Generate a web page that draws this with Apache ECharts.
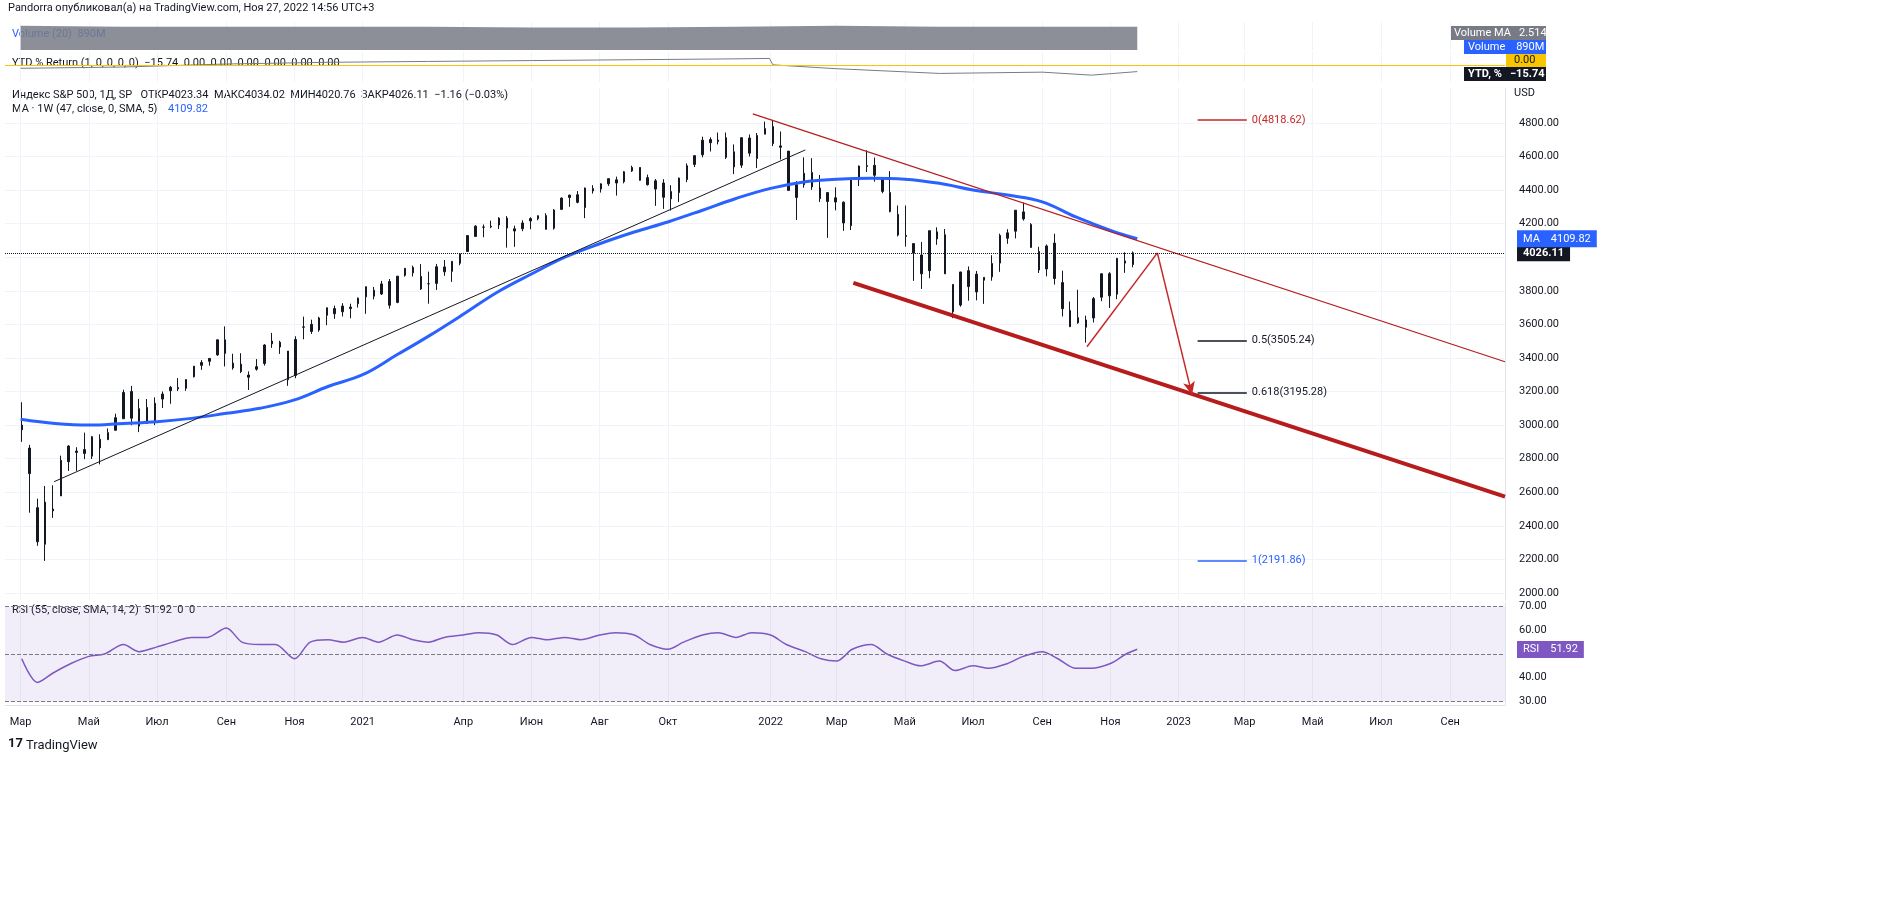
<!DOCTYPE html>
<html>
<head>
<meta charset="utf-8">
<script src="https://cdn.jsdelivr.net/npm/echarts@6/dist/echarts.min.js"></script>
<style>
  html, body { margin: 0; padding: 0; background: #fff; }
  #chart { width: 1890px; height: 917px; }
</style>
</head>
<body>
<div id="chart"></div>
<script>
// weekly bars: [week start, open, close, low, high]
const weekStarts = [
  '2020-03-02','2020-03-09','2020-03-16','2020-03-23','2020-03-30','2020-04-06','2020-04-13','2020-04-20','2020-04-27',
  '2020-05-04','2020-05-11','2020-05-18','2020-05-25','2020-06-01','2020-06-08','2020-06-15','2020-06-22','2020-06-29',
  '2020-07-06','2020-07-13','2020-07-20','2020-07-27','2020-08-03','2020-08-10','2020-08-17','2020-08-24','2020-08-31',
  '2020-09-07','2020-09-14','2020-09-21','2020-09-28','2020-10-05','2020-10-12','2020-10-19','2020-10-26','2020-11-02',
  '2020-11-09','2020-11-16','2020-11-23','2020-11-30','2020-12-07','2020-12-14','2020-12-21','2020-12-28',
  '2021-01-04','2021-01-11','2021-01-18','2021-01-25','2021-02-01','2021-02-08','2021-02-15','2021-02-22','2021-03-01',
  '2021-03-08','2021-03-15','2021-03-22','2021-03-29','2021-04-05','2021-04-12','2021-04-19','2021-04-26','2021-05-03',
  '2021-05-10','2021-05-17','2021-05-24','2021-05-31','2021-06-07','2021-06-14','2021-06-21','2021-06-28','2021-07-05',
  '2021-07-12','2021-07-19','2021-07-26','2021-08-02','2021-08-09','2021-08-16','2021-08-23','2021-08-30','2021-09-06',
  '2021-09-13','2021-09-20','2021-09-27','2021-10-04','2021-10-11','2021-10-18','2021-10-25','2021-11-01','2021-11-08',
  '2021-11-15','2021-11-22','2021-11-29','2021-12-06','2021-12-13','2021-12-20','2021-12-27',
  '2022-01-03','2022-01-10','2022-01-17','2022-01-24','2022-01-31','2022-02-07','2022-02-14','2022-02-21','2022-02-28',
  '2022-03-07','2022-03-14','2022-03-21','2022-03-28','2022-04-04','2022-04-11','2022-04-18','2022-04-25','2022-05-02',
  '2022-05-09','2022-05-16','2022-05-23','2022-05-30','2022-06-06','2022-06-13','2022-06-20','2022-06-27','2022-07-04',
  '2022-07-11','2022-07-18','2022-07-25','2022-08-01','2022-08-08','2022-08-15','2022-08-22','2022-08-29','2022-09-05',
  '2022-09-12','2022-09-19','2022-09-26','2022-10-03','2022-10-10','2022-10-17','2022-10-24','2022-10-31','2022-11-07',
  '2022-11-14','2022-11-21'
];
const opens = [
  3000,2863,2508,2290,2500,2578,2782,2845,2854, 2815,2915,2913,2969,3038,3200,2994,3105,3018,
  3155,3205,3224,3219,3288,3356,3380,3418,3508, 3369,3363,3285,3333,3367,3500,3493,3441,3296,
  3583,3600,3566,3654,3694,3675,3694,3723,
  3764,3803,3781,3855,3731,3892,3939,3885,3842, 3844,3942,3916,3964,4034,4124,4179,4185,4192,
  4233,4169,4170,4216,4229,4248,4173,4285,4356, 4372,4296,4409,4406,4437,4461,4450,4514,4535,
  4474,4406,4442,4348,4385,4463,4553,4610,4701, 4689,4712,4628,4548,4710,4588,4733,
  4778,4655,4632,4356,4432,4505,4412,4332,4354, 4328,4188,4462,4541,4547,4474,4385,4255,4130,
  4081,4013,3920,4151,4134,3838,3715,3920,3793, 3880,3883,3965,4113,4155,4270,4195,4034,3930,
  4084,3849,3682,3609,3626,3638,3762,3902,3780, 3978,3956
];
const closes = [
  2972,2711,2305,2541,2489,2790,2875,2837,2831, 2930,2864,2955,3044,3194,3041,3098,3009,3130,
  3185,3225,3216,3271,3351,3373,3397,3508,3427, 3341,3319,3298,3348,3477,3484,3465,3270,3510,
  3585,3558,3638,3699,3663,3709,3703,3756,
  3824,3768,3841,3714,3887,3934,3907,3811,3842, 3943,3913,3975,4020,4129,4185,4180,4181,4233,
  4174,4156,4204,4230,4247,4166,4281,4352,4370, 4327,4412,4395,4437,4468,4442,4509,4535,4458,
  4432,4455,4357,4391,4471,4545,4605,4697,4682, 4698,4595,4538,4712,4620,4725,4766,
  4677,4663,4398,4432,4500,4419,4349,4385,4329, 4204,4463,4543,4546,4488,4392,4272,4132,4124,
  4024,3901,4158,4109,3901,3675,3912,3825,3899, 3863,3962,4130,4145,4280,4228,4058,3924,4067,
  3873,3693,3586,3640,3583,3753,3901,3770,3993, 3965,4026
];
const lows = [
  2900,2478,2281,2191,2447,2578,2727,2727,2797, 2798,2766,2913,2969,3038,2999,2958,3008,3000,
  3102,3127,3203,3204,3284,3329,3354,3413,3349, 3330,3310,3209,3324,3354,3460,3424,3234,3279,
  3511,3543,3556,3595,3633,3647,3636,3700,
  3663,3749,3775,3694,3726,3884,3885,3805,3723, 3805,3889,3853,3952,4034,4124,4119,4173,4168,
  4057,4062,4155,4167,4220,4165,4164,4283,4300, 4321,4233,4379,4385,4425,4367,4440,4508,4457,
  4427,4306,4288,4278,4329,4447,4537,4595,4630, 4672,4585,4495,4532,4600,4531,4733,
  4662,4582,4395,4222,4414,4401,4329,4115,4279, 4157,4162,4424,4507,4450,4381,4267,4124,4063,
  3859,3811,3875,4074,3900,3637,3705,3741,3743, 3722,3860,3913,4080,4112,4218,4057,3906,3886,
  3837,3647,3584,3604,3491,3611,3738,3698,3750, 3907,3940
];
const highs = [
  3136,2882,2562,2637,2641,2818,2880,2868,2955, 2934,2945,2980,3068,3211,3233,3156,3155,3165,
  3200,3233,3280,3272,3352,3387,3399,3509,3588, 3425,3428,3320,3393,3482,3549,3502,3441,3529,
  3646,3628,3645,3699,3712,3726,3723,3760,
  3826,3823,3859,3870,3888,3935,3950,3959,3914, 3960,3983,3978,4021,4129,4191,4195,4218,4238,
  4245,4188,4220,4238,4249,4262,4286,4356,4372, 4394,4415,4429,4440,4468,4480,4513,4545,4535,
  4492,4466,4465,4429,4475,4559,4608,4718,4714, 4743,4743,4672,4713,4731,4740,4808,
  4818,4749,4632,4453,4595,4590,4490,4386,4416, 4332,4465,4546,4637,4594,4474,4513,4308,4308,
  4081,4091,4158,4178,4168,3838,3913,3945,3918, 3880,4012,4140,4167,4280,4325,4203,4062,4076,
  4140,3920,3736,3806,3652,3763,3905,3911,3996, 4029,4034
];

// 47-week SMA, read at month points
const maDates = ['2020-03-01','2020-04-01','2020-05-01','2020-06-01','2020-07-01','2020-08-01','2020-09-01','2020-10-01',
  '2020-11-01','2020-12-01','2021-01-01','2021-02-01','2021-03-01','2021-04-01','2021-05-01','2021-06-01','2021-07-01',
  '2021-08-01','2021-09-01','2021-10-01','2021-11-01','2021-12-01','2022-01-01','2022-02-01','2022-03-01','2022-04-01',
  '2022-05-01','2022-06-01','2022-07-01','2022-08-01','2022-09-01','2022-10-01','2022-11-01','2022-11-25'];
const maValues = [3035,3010,3000,3010,3020,3040,3070,3100,3150,3230,3300,3420,3530,3660,3790,3900,4000,
  4080,4150,4210,4280,4350,4410,4450,4465,4470,4465,4440,4400,4370,4330,4240,4160,4110];

// RSI(55)
const rsiDates = ['2020-03-02','2020-03-16','2020-03-30','2020-04-15','2020-05-01','2020-05-15','2020-06-01','2020-06-15',
  '2020-07-01','2020-07-15','2020-08-01','2020-08-15','2020-09-01','2020-09-15','2020-10-01','2020-10-15','2020-11-01',
  '2020-11-15','2020-12-01','2020-12-15','2021-01-01','2021-01-15','2021-02-01','2021-02-15','2021-03-01','2021-03-15',
  '2021-04-01','2021-04-15','2021-05-01','2021-05-15','2021-06-01','2021-06-15','2021-07-01','2021-07-15','2021-08-01',
  '2021-08-15','2021-09-01','2021-09-15','2021-10-01','2021-10-15','2021-11-01','2021-11-15','2021-12-01','2021-12-15',
  '2022-01-01','2022-01-15','2022-02-01','2022-02-15','2022-03-01','2022-03-15','2022-04-01','2022-04-15','2022-05-01',
  '2022-05-15','2022-06-01','2022-06-15','2022-07-01','2022-07-15','2022-08-01','2022-08-15','2022-09-01','2022-09-15',
  '2022-10-01','2022-10-15','2022-11-01','2022-11-15','2022-11-25'];
const rsiValues = [48,38,42,46,49,50,54,51,53,55,57,57,61,55,54,54,48,55,56,55,57,55,58,56,55,57,
  58,59,58,54,57,56,57,56,58,59,58,54,52,55,58,59,57,59,
  58,54,51,48,47,52,54,50,47,45,47,43,45,44,46,49,51,48,
  44,44,46,50,52];

// volume (billions) and YTD % return
const volDates = ['2020-03-01','2020-06-01','2020-09-01','2020-12-01','2021-03-01','2021-06-01','2021-09-01',
  '2021-12-01','2022-03-01','2022-06-01','2022-09-01','2022-11-25'];
const volValues = [2.6,2.5,2.5,2.5,2.5,2.4,2.4,2.5,2.6,2.5,2.5,2.5];
const ytdDates = ['2020-03-01','2020-06-01','2020-09-01','2020-12-01','2021-03-01','2021-06-01','2021-09-01',
  '2021-12-01','2021-12-31','2022-01-03','2022-03-01','2022-06-01','2022-09-01','2022-10-15','2022-11-25'];
const ytdValues = [-8,-5,2,6,8,10,12,14,15,0,-9,-20,-17,-24,-15.74];

const monthTicks = ['2020-03-01','2020-05-01','2020-07-01','2020-09-01','2020-11-01','2021-01-01','2021-04-01',
  '2021-06-01','2021-08-01','2021-10-01','2022-01-01','2022-03-01','2022-05-01','2022-07-01','2022-09-01',
  '2022-11-01','2023-01-01','2023-03-01','2023-05-01','2023-07-01','2023-09-01'];
const monthNames = ['Янв','Фев','Мар','Апр','Май','Июн','Июл','Авг','Сен','Окт','Ноя','Дек'];
const priceTicks = [2000,2200,2400,2600,2800,3000,3200,3400,3600,3800,4000,4200,4400,4600,4800];

const ts = d => Date.UTC(+d.slice(0, 4), +d.slice(5, 7) - 1, +d.slice(8, 10));
const xMin = ts('2020-02-16'), xMax = ts('2023-10-20');
const bars = weekStarts.map((d, i) => [ts(d), opens[i], closes[i], lows[i], highs[i]]);

const chart = echarts.init(document.getElementById('chart'));
const font = 'Roboto, "DejaVu Sans", sans-serif';
const gridL = 5, gridR = 385;
const clear = 'rgba(0,0,0,0)';

function xAx(idx, showLabels) {
  return {
    type: 'value', gridIndex: idx, min: xMin, max: xMax,
    axisLine: { show: showLabels, lineStyle: { color: '#e0e3eb' } },
    axisTick: { show: false, customValues: monthTicks.map(ts) },
    splitLine: { show: true, lineStyle: { color: '#f0f3fa' } },
    axisLabel: {
      show: showLabels, color: '#131722', fontSize: 11, fontFamily: font, margin: 12,
      customValues: monthTicks.map(ts),
      formatter: v => { const d = new Date(v); return d.getUTCMonth() === 0 ? String(d.getUTCFullYear()) : monthNames[d.getUTCMonth()]; }
    }
  };
}

const seg = (d1, p1, d2, p2, style, extra) => [
  Object.assign({ coord: [ts(d1), p1], lineStyle: style }, extra || {}), { coord: [ts(d2), p2] }
];
const fib = (p, txt, color) => seg('2023-01-18', p, '2023-03-03', p, { color: color, width: 1.5 },
  { label: { show: true, position: 'end', formatter: txt, color: color, fontSize: 11 } });
const badge = (v, txt, bg) => ({ yAxis: v, lineStyle: { color: clear, width: 0 },
  label: { show: true, position: 'end', distance: 12, formatter: txt, backgroundColor: bg, color: '#fff',
    padding: [3, 6], fontSize: 11 } });

chart.setOption({
  animation: false,
  textStyle: { fontFamily: font },
  grid: [
    { left: gridL, right: gridR, top: 22, height: 28 },
    { left: gridL, right: gridR, top: 52, height: 30 },
    { left: gridL, right: gridR, top: 88, height: 512 },
    { left: gridL, right: gridR, top: 603, height: 102 }
  ],
  xAxis: [xAx(0, false), xAx(1, false), xAx(2, false), xAx(3, true)],
  yAxis: [
    { gridIndex: 0, type: 'value', min: 0, max: 3, show: false },
    { gridIndex: 1, type: 'value', min: -40, max: 30, show: false },
    {
      gridIndex: 2, type: 'value', position: 'right', min: 1958, max: 5008,
      axisLine: { show: true, lineStyle: { color: '#e0e3eb' } },
      axisTick: { show: false, customValues: priceTicks },
      splitLine: { show: true, lineStyle: { color: '#f0f3fa' } },
      axisLabel: { color: '#131722', fontSize: 11, margin: 14, customValues: priceTicks, formatter: v => v.toFixed(2) }
    },
    {
      gridIndex: 3, type: 'value', position: 'right', min: 28.5, max: 71.5,
      axisLine: { show: true, lineStyle: { color: '#e0e3eb' } },
      axisTick: { show: false, customValues: [30, 40, 60, 70] },
      splitLine: { show: false },
      axisLabel: { color: '#131722', fontSize: 11, margin: 14, customValues: [30, 40, 60, 70], formatter: v => v.toFixed(2) }
    }
  ],
  series: [
    {
      name: 'Volume MA', type: 'line', xAxisIndex: 0, yAxisIndex: 0, showSymbol: false,
      data: volDates.map((d, i) => [ts(d), volValues[i]]),
      lineStyle: { width: 0 }, areaStyle: { color: '#787b86', opacity: 0.85 }
    },
    {
      name: 'YTD', type: 'line', xAxisIndex: 1, yAxisIndex: 1, showSymbol: false,
      data: ytdDates.map((d, i) => [ts(d), ytdValues[i]]),
      lineStyle: { width: 1, color: '#787b86' },
      markLine: { silent: true, symbol: 'none', label: { show: false },
        lineStyle: { color: '#f7c600', type: 'solid', width: 1 }, data: [{ yAxis: 0 }] }
    },
    {
      name: 'S&P 500', type: 'candlestick', xAxisIndex: 2, yAxisIndex: 2, barMaxWidth: 2,
      data: bars,
      itemStyle: { color: '#131722', color0: '#131722', borderColor: '#131722', borderColor0: '#131722', borderWidth: 1 },
      markLine: {
        silent: true, symbol: 'none', animation: false,
        lineStyle: { color: '#131722', width: 1, type: 'solid' },
        data: [
          seg('2020-03-31', 2663, '2022-02-01', 4639, { color: '#131722', width: 1 }),
          seg('2021-12-16', 4854, '2023-10-20', 3377, { color: '#b71c1c', width: 1.2 }),
          seg('2022-03-16', 3847, '2023-10-20', 2574, { color: '#b71c1c', width: 4 }),
          seg('2022-10-11', 3467, '2022-12-13', 4026, { color: '#c62828', width: 1.5 }),
          [{ coord: [ts('2022-12-13'), 4026], lineStyle: { color: '#c62828', width: 1.5 }, symbol: 'none' },
           { coord: [ts('2023-01-13'), 3181], symbol: 'arrow', symbolSize: [9, 13] }],
          fib(4818.62, '0(4818.62)', '#c62828'),
          fib(3505.24, '0.5(3505.24)', '#131722'),
          fib(3195.28, '0.618(3195.28)', '#131722'),
          fib(2191.86, '1(2191.86)', '#2962ff'),
          { yAxis: 4026.11, lineStyle: { color: '#131722', type: 'dotted', width: 1 },
            label: { show: true, position: 'end', formatter: '4026.11', backgroundColor: '#131722', color: '#fff',
              padding: [3, 6], fontSize: 11, fontWeight: 'bold', distance: 12 } },
          badge(4109.82, 'MA    4109.82', '#2962ff')
        ]
      }
    },
    {
      name: 'MA', type: 'line', xAxisIndex: 2, yAxisIndex: 2, showSymbol: false, smooth: 0.4,
      data: maDates.map((d, i) => [ts(d), maValues[i]]),
      lineStyle: { color: '#2962ff', width: 3 }
    },
    {
      name: 'RSI', type: 'line', xAxisIndex: 3, yAxisIndex: 3, showSymbol: false, smooth: 0.3,
      data: rsiDates.map((d, i) => [ts(d), rsiValues[i]]),
      lineStyle: { color: '#7e57c2', width: 1.5 },
      markArea: { silent: true, itemStyle: { color: 'rgba(126,87,194,0.1)' }, data: [[{ yAxis: 30 }, { yAxis: 70 }]] },
      markLine: { silent: true, symbol: 'none',
        lineStyle: { color: '#787b86', type: 'dashed', width: 1 },
        data: [{ yAxis: 70, label: { show: false } }, { yAxis: 50, label: { show: false } }, { yAxis: 30, label: { show: false } },
          badge(51.92, 'RSI    51.92', '#7e57c2')] }
    }
  ],
  graphic: [
    { type: 'text', left: 8, top: 3, style: { text: 'Pandorra опубликовал(а) на TradingView.com, Ноя 27, 2022 14:56 UTC+3', fill: '#131722', font: '11px ' + font } },
    { type: 'text', left: 12, top: 29, style: { text: 'Volume (20)  890M', fill: '#2962ff', font: '11px ' + font } },
    { type: 'text', left: 12, top: 58, style: { text: 'YTD % Return (1, 0, 0, 0, 0)  −15.74  0.00  0.00  0.00  0.00  0.00  0.00', fill: '#131722', font: '11px ' + font } },
    { type: 'text', left: 12, top: 90, style: { text: 'Индекс S&P 500, 1Д, SP   ОТКР4023.34  МАКС4034.02  МИН4020.76  ЗАКР4026.11  −1.16 (−0.03%)', fill: '#131722', font: '11px ' + font } },
    { type: 'text', left: 12, top: 104, style: { text: 'MA · 1W (47, close, 0, SMA, 5)', fill: '#131722', font: '11px ' + font } },
    { type: 'text', left: 168, top: 104, style: { text: '4109.82', fill: '#2962ff', font: '11px ' + font } },
    { type: 'text', left: 12, top: 605, style: { text: 'RSI (55, close, SMA, 14, 2)  51.92  0  0', fill: '#131722', font: '11px ' + font } },
    { type: 'text', left: 1514, top: 88, style: { text: 'USD', fill: '#131722', font: '11px ' + font } },
    { type: 'rect', left: 1450, top: 26, shape: { width: 96, height: 14 }, style: { fill: '#787b86' } },
    { type: 'text', left: 1454, top: 28, style: { text: 'Volume MA   2.514B', fill: '#fff', font: '11px ' + font } },
    { type: 'rect', left: 1464, top: 40, shape: { width: 82, height: 14 }, style: { fill: '#2962ff' } },
    { type: 'text', left: 1468, top: 42, style: { text: 'Volume    890M', fill: '#fff', font: '11px ' + font } },
    { type: 'rect', left: 1506, top: 54, shape: { width: 40, height: 13 }, style: { fill: '#f7c600' } },
    { type: 'text', left: 1514, top: 55, style: { text: '0.00', fill: '#131722', font: '11px ' + font } },
    { type: 'rect', left: 1464, top: 67, shape: { width: 82, height: 14 }, style: { fill: '#131722' } },
    { type: 'text', left: 1468, top: 69, style: { text: 'YTD, %   −15.74', fill: '#fff', font: 'bold 11px ' + font } },
    { type: 'text', left: 26, top: 739, style: { text: 'TradingView', fill: '#131722', font: '13px ' + font } },
    { type: 'text', left: 8, top: 737, style: { text: '17', fill: '#131722', font: 'bold 13px ' + font } }
  ]
});
</script>
</body>
</html>
